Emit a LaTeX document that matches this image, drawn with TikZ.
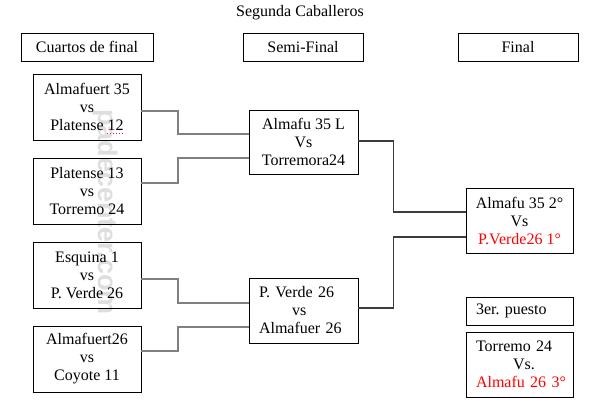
\documentclass[tikz,border=0pt]{standalone}
\usepackage{fontspec}
\setmainfont{Liberation Serif}
\newfontfamily\wmfont{Liberation Sans}
\usetikzlibrary{calc}
\frenchspacing
\definecolor{linegray}{RGB}{128,128,128}
\definecolor{darkline}{RGB}{60,60,60}
\definecolor{wmgray}{RGB}{222,222,222}
\definecolor{redtxt}{RGB}{255,0,0}
\tikzset{
  box/.style={draw, line width=0.8pt, inner sep=0pt, font=\fontsize{16}{18}\selectfont\frenchspacing, align=center},
  hbox/.style={box, minimum width=#1, minimum height=28pt},
  qbox/.style={box, minimum width=108pt, minimum height=66pt},
  sbox/.style={box, minimum width=109pt, minimum height=64pt},
  lconn/.style={draw=linegray, line width=2pt},
  rconn/.style={draw=darkline, line width=1.3pt},
}
\begin{document}
\begin{tikzpicture}[x=1pt,y=-1pt]
\useasboundingbox (0,0) rectangle (596,412);
% watermark
\node[rotate=-90, text=wmgray, font=\wmfont\bfseries\fontsize{27}{27}\selectfont, inner sep=0pt] (wm) at (105,212) {padecenter.com};
% title
\node[font=\fontsize{16}{18}\selectfont, inner sep=0pt] (title) at (300,13) {Segunda Caballeros};
% headers
\node[hbox=132pt] (h1) at (87,47) {Cuartos de final};
\node[hbox=120pt] (h2) at (303,47) {Semi-Final};
\node[hbox=120pt] (h3) at (518,47) {Final};
% quarter finals
\node[qbox] (q1) at (87,107) {Almafuert 35\\vs\\Platense 12};
\node[qbox] (q2) at (87,191) {Platense 13\\vs\\Torremo 24};
\node[qbox] (q3) at (87,275) {Esquina 1\\vs\\P. Verde 26};
\node[qbox] (q4) at (87,359) {Almafuert26\\vs\\Coyote 11};
\draw[magenta, dotted, line width=1pt] ($(q1.center)+(20,26)$) coordinate (u1) -- ($(q1.center)+(36,26)$) coordinate (u2);
% semi finals
\node[sbox] (s1) at (303.5,142) {Almafu 35 L\\Vs\\Torremora24};
\node[sbox, minimum height=65pt, text width=89pt, inner xsep=10pt, align=left] (s2) at (303.5,310.5) {\mbox{P. Verde 26}\\\hspace*{33pt}vs\\\mbox{Almafuer 26}};
% final
\node[box, minimum width=107pt, minimum height=65pt] (f) at (519.5,220.5) {Almafu 35 2°\\Vs\\\textcolor{redtxt}{P.Verde26 1°}};
% third place
\node[box, minimum height=28pt, text width=87pt, inner xsep=10pt, align=left] (p3h) at (519.5,311) {\mbox{3er. puesto}};
\node[box, minimum height=65pt, text width=87pt, inner xsep=10pt, align=left] (p3) at (519.5,364.5) {\mbox{Torremo 24}\\\hspace*{37pt}Vs.\\\mbox{\textcolor{redtxt}{Almafu 26 3°}}};
% connectors
\draw[lconn] ($(q1.east)+(0,4)$) -- ++(37,0) |- ($(s1.west)+(0,-8)$);
\draw[lconn] ($(q2.east)+(0,-8)$) -- ++(37,0) |- ($(s1.west)+(0,16)$);
\draw[lconn] ($(q3.east)+(0,4)$) -- ++(37,0) |- ($(s2.west)+(0,-7.5)$);
\draw[lconn] ($(q4.east)+(0,-8)$) -- ++(37,0) |- ($(s2.west)+(0,16.5)$);
\draw[rconn] ($(s1.east)+(0,-1)$) -- ++(35,0) |- ($(f.west)+(0,-8.5)$);
\draw[rconn] ($(s2.east)+(0,-2.5)$) -- ++(35,0) |- ($(f.west)+(0,16.5)$);
\end{tikzpicture}
\end{document}
